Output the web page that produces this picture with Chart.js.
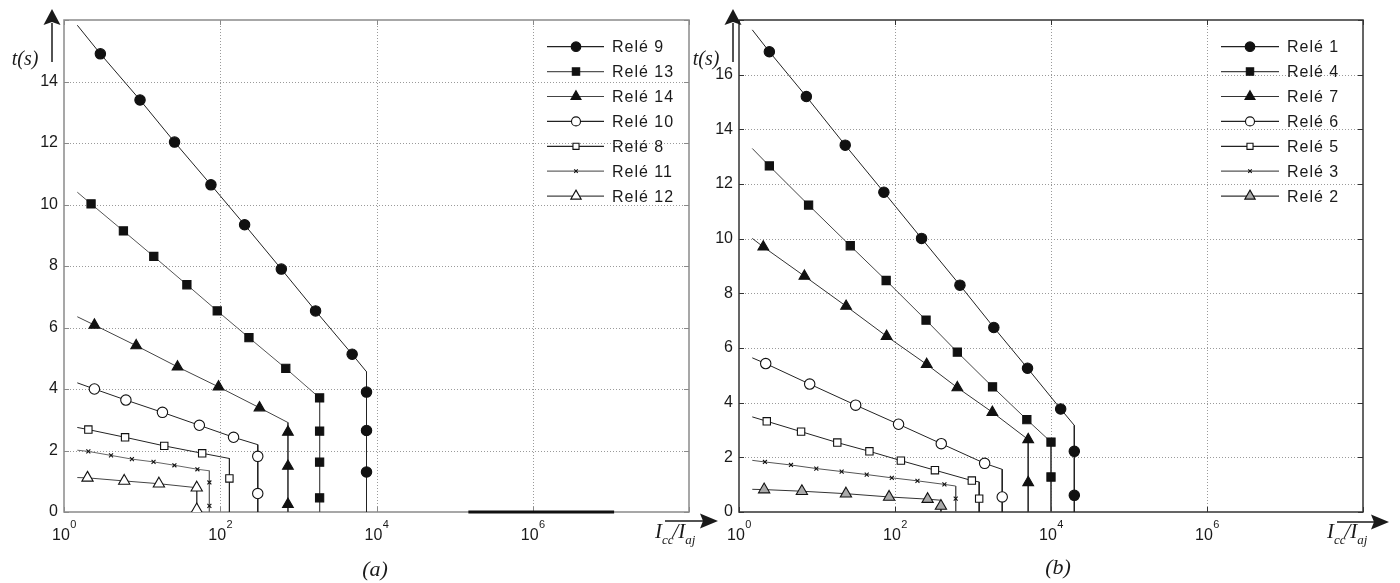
<!DOCTYPE html>
<html><head><meta charset="utf-8">
<script src="https://cdn.jsdelivr.net/npm/chart.js@4.4.1/dist/chart.umd.min.js"></script>
<style>
html,body{margin:0;padding:0;background:#fff;}
#wrap{position:relative;width:1400px;height:583px;background:#fff;}
canvas{position:absolute;left:0;top:0;}
</style></head><body>
<div id="wrap"><canvas id="ca" width="1400" height="583"></canvas><canvas id="cb" width="1400" height="583"></canvas></div>
<script>
// ---------- axis ticks ----------
const xTickValues = [1, 1e2, 1e4, 1e6, 1e8];
const xTickExps = ['0', '2', '4', '6', ''];
const yMaxA = 16;
const yMaxB = 18;
const yStep = 2;

// ---------- panel (a) ----------
const namesA = ['Relé 9', 'Relé 13', 'Relé 14', 'Relé 10', 'Relé 8', 'Relé 11', 'Relé 12'];
const r9I  = [1.48, 2.92, 9.4, 26, 76, 205, 605, 1660, 4880, 7450, 7450, 7450, 7450, 7450];
const r9t  = [15.83, 14.9, 13.4, 12.03, 10.64, 9.34, 7.9, 6.54, 5.13, 4.56, 3.9, 2.65, 1.3, 0];
const r9Mk = [1, 2, 3, 4, 5, 6, 7, 8, 10, 11, 12];
const r13I  = [1.48, 2.22, 5.76, 14.1, 37.4, 91.5, 233, 690, 1870, 1870, 1870, 1870, 1870];
const r13t  = [10.4, 10.02, 9.14, 8.31, 7.39, 6.54, 5.67, 4.67, 3.71, 2.63, 1.62, 0.46, 0];
const r13Mk = [1, 2, 3, 4, 5, 6, 7, 8, 9, 10, 11];
const r14I  = [1.48, 2.45, 8.4, 28.4, 95, 318, 735, 735, 735, 735, 735];
const r14t  = [6.35, 6.08, 5.41, 4.72, 4.07, 3.39, 2.91, 2.6, 1.49, 0.25, 0];
const r14Mk = [1, 2, 3, 4, 5, 7, 8, 9];
const r10I  = [1.48, 2.45, 6.2, 18.2, 54, 148, 302, 302, 302, 302];
const r10t  = [4.2, 4.0, 3.64, 3.24, 2.82, 2.43, 2.19, 1.81, 0.6, 0];
const r10Mk = [1, 2, 3, 4, 5, 7, 8];
const r8I  = [1.48, 2.05, 6.05, 19.2, 58.7, 131, 131, 131];
const r8t  = [2.75, 2.68, 2.43, 2.15, 1.91, 1.74, 1.09, 0];
const r8Mk = [1, 2, 3, 4, 6];
const r11I  = [1.48, 2.05, 4.0, 7.4, 14, 25.9, 51, 72.6, 72.6, 72.6, 72.6];
const r11t  = [2.01, 1.97, 1.84, 1.72, 1.63, 1.52, 1.39, 1.34, 0.96, 0.2, 0];
const r11Mk = [1, 2, 3, 4, 5, 6, 8, 9];
const r12I  = [1.48, 2.0, 5.9, 16.4, 50, 50, 50];
const r12t  = [1.12, 1.11, 1.01, 0.92, 0.79, 0.08, 0];
const r12Mk = [1, 2, 3, 4, 5];
const baseAI = [1.5e5, 1.1e7];
const baseAt = [0, 0];

// ---------- panel (b) ----------
const namesB = ['Relé 1', 'Relé 4', 'Relé 7', 'Relé 6', 'Relé 5', 'Relé 3', 'Relé 2'];
const r1I  = [1.48, 2.45, 7.3, 23, 72, 219, 680, 1850, 5000, 13300, 19900, 19900, 19900, 19900];
const r1t  = [17.64, 16.84, 15.2, 13.42, 11.7, 10.01, 8.3, 6.75, 5.26, 3.77, 3.17, 2.22, 0.61, 0];
const r1Mk = [1, 2, 3, 4, 5, 6, 7, 8, 9, 11, 12];
const r4I  = [1.48, 2.45, 7.8, 26.7, 77, 250, 630, 1780, 4900, 10000, 10000, 10000];
const r4t  = [13.3, 12.66, 11.23, 9.74, 8.47, 7.02, 5.85, 4.58, 3.38, 2.56, 1.28, 0];
const r4Mk = [1, 2, 3, 4, 5, 6, 7, 8, 9, 10];
const r7I  = [1.48, 2.05, 6.9, 23.6, 78, 255, 630, 1770, 5100, 5100, 5100];
const r7t  = [10.01, 9.7, 8.63, 7.53, 6.43, 5.4, 4.55, 3.65, 2.65, 1.08, 0];
const r7Mk = [1, 2, 3, 4, 5, 6, 7, 8, 9];
const r6I  = [1.48, 2.2, 8.06, 31.3, 111, 392, 1410, 2370, 2370, 2370];
const r6t  = [5.64, 5.43, 4.68, 3.91, 3.21, 2.5, 1.78, 1.56, 0.55, 0];
const r6Mk = [1, 2, 3, 4, 5, 6, 8];
const r5I  = [1.48, 2.27, 6.25, 18.2, 47, 119, 325, 966, 1200, 1200, 1200];
const r5t  = [3.48, 3.32, 2.94, 2.54, 2.22, 1.88, 1.53, 1.15, 1.1, 0.49, 0];
const r5Mk = [1, 2, 3, 4, 5, 6, 7, 9];
const r3I  = [1.48, 2.15, 4.64, 9.8, 20.7, 43.4, 91, 194, 430, 600, 600, 600];
const r3t  = [1.89, 1.83, 1.72, 1.59, 1.48, 1.37, 1.25, 1.14, 1.01, 0.95, 0.49, 0];
const r3Mk = [1, 2, 3, 4, 5, 6, 7, 8, 10];
const r2I  = [1.48, 2.1, 6.4, 23.5, 84, 262, 388, 388, 388];
const r2t  = [0.83, 0.82, 0.76, 0.67, 0.55, 0.47, 0.43, 0.22, 0];
const r2Mk = [1, 2, 3, 4, 5, 7];

// ---------- styles ----------
const SANS = "'Liberation Sans', Arial, sans-serif";
const SERIF = "'Liberation Serif', 'Times New Roman', serif";
const stylesA = [
  {ps: 'circle',   fill: '#111', r: 5.2, lr: 4.8},
  {ps: 'rect',     fill: '#111', r: 5.8, lr: 5.2},
  {ps: 'triangle', fill: '#111', r: 6.2, lr: 5.8},
  {ps: 'circle',   fill: '#fff', r: 5.2, lr: 4.5},
  {ps: 'rect',     fill: '#fff', r: 5.2, lr: 4.3},
  {ps: 'crossRot', fill: '#fff', r: 2.8, lr: 2.5},
  {ps: 'triangle', fill: '#fff', r: 6.5, lr: 6.0}
];
const stylesB = stylesA.slice(0, 6).concat([{ps: 'triangle', fill: '#aaa', r: 6.5, lr: 6.0}]);
const lineColorsA = ['#222', '#555', '#444', '#222', '#222', '#666', '#444'];
const lineColorsB = ['#222', '#444', '#333', '#222', '#222', '#555', '#333'];

function relayDataset(I, t, marks, st, color) {
  return {
    data: I.map((x, i) => ({x: x, y: t[i]})),
    borderColor: color,
    borderWidth: 1,
    tension: 0,
    pointStyle: st.ps,
    pointRadius: c => marks.includes(c.dataIndex) ? st.r : 0,
    pointHoverRadius: 0,
    pointHitRadius: 0,
    pointBackgroundColor: st.fill,
    pointBorderColor: '#111',
    pointBorderWidth: 1.1
  };
}

function markerAt(ctx, st, x, y, r) {
  ctx.save();
  ctx.fillStyle = st.fill;
  ctx.strokeStyle = '#111';
  ctx.lineWidth = 1.1;
  if (Chart.helpers && Chart.helpers.drawPoint) {
    Chart.helpers.drawPoint(ctx, {pointStyle: st.ps, radius: r, rotation: 0, borderWidth: 1.1}, x, y);
  }
  ctx.restore();
}

const decoPlugin = {
  id: 'deco',
  beforeDatasetsDraw(chart, args, o) {
    const {ctx, chartArea: a, scales: {x, y}} = chart;
    ctx.save();
    ctx.strokeStyle = '#9a9a9a';
    ctx.lineWidth = 1;
    ctx.setLineDash([1, 2]);
    xTickValues.forEach(v => {
      const px = Math.round(x.getPixelForValue(v)) + 0.5;
      if (px > a.left + 2 && px < a.right - 2) {
        ctx.beginPath(); ctx.moveTo(px, a.top); ctx.lineTo(px, a.bottom); ctx.stroke();
      }
    });
    y.ticks.forEach(tk => {
      const py = Math.round(y.getPixelForValue(tk.value)) + 0.5;
      if (py > a.top + 2 && py < a.bottom - 2) {
        ctx.beginPath(); ctx.moveTo(a.left, py); ctx.lineTo(a.right, py); ctx.stroke();
      }
    });
    // frame and inward ticks
    ctx.strokeStyle = o.frameColor;
    ctx.lineWidth = o.frameWidth;
    ctx.setLineDash([]);
    ctx.strokeRect(a.left, a.top, a.right - a.left, a.bottom - a.top);
    ctx.lineWidth = 1;
    const tl = 5;
    xTickValues.forEach(v => {
      const px = Math.round(x.getPixelForValue(v)) + 0.5;
      ctx.beginPath(); ctx.moveTo(px, a.bottom); ctx.lineTo(px, a.bottom - tl);
      ctx.moveTo(px, a.top); ctx.lineTo(px, a.top + tl); ctx.stroke();
    });
    y.ticks.forEach(tk => {
      const py = Math.round(y.getPixelForValue(tk.value)) + 0.5;
      ctx.beginPath(); ctx.moveTo(a.left, py); ctx.lineTo(a.left + tl, py);
      ctx.moveTo(a.right, py); ctx.lineTo(a.right - tl, py); ctx.stroke();
    });
    ctx.restore();
  },
  afterDraw(chart, args, o) {
    const {ctx, chartArea: a, scales: {x}} = chart;
    ctx.save();
    ctx.fillStyle = '#1a1a1a';
    // x tick labels 10^n
    xTickValues.forEach((v, i) => {
      if (!xTickExps[i]) return;
      const px = x.getPixelForValue(v);
      ctx.font = '16px ' + SANS;
      const w1 = ctx.measureText('10').width;
      ctx.font = '11px ' + SANS;
      const w2 = ctx.measureText(xTickExps[i]).width;
      const x0 = px - (w1 + w2) / 2;
      ctx.textAlign = 'left';
      ctx.textBaseline = 'alphabetic';
      ctx.font = '16px ' + SANS;
      ctx.fillText('10', x0, a.bottom + 28);
      ctx.font = '11px ' + SANS;
      ctx.fillText(xTickExps[i], x0 + w1 + 0.5, a.bottom + 15.5);
    });
    // y arrow
    ctx.strokeStyle = '#1a1a1a';
    ctx.lineWidth = 1.5;
    const ya = o.yArrow;
    ctx.beginPath(); ctx.moveTo(ya.x, ya.tail); ctx.lineTo(ya.x, ya.tip + 14); ctx.stroke();
    ctx.beginPath(); ctx.moveTo(ya.x, ya.tip); ctx.lineTo(ya.x - 8.5, ya.tip + 16); ctx.lineTo(ya.x, ya.tip + 13);
    ctx.lineTo(ya.x + 8.5, ya.tip + 16); ctx.closePath(); ctx.fill();
    // x arrow
    const xa = o.xArrow;
    ctx.beginPath(); ctx.moveTo(xa.tail, xa.y); ctx.lineTo(xa.tip - 15, xa.y); ctx.stroke();
    ctx.beginPath(); ctx.moveTo(xa.tip, xa.y); ctx.lineTo(xa.tip - 18, xa.y - 7.5); ctx.lineTo(xa.tip - 15, xa.y);
    ctx.lineTo(xa.tip - 18, xa.y + 7.5); ctx.closePath(); ctx.fill();
    // t(s)
    ctx.font = 'italic 20px ' + SERIF;
    ctx.textAlign = 'center';
    ctx.textBaseline = 'middle';
    ctx.fillText('t(s)', o.tLabel.x, o.tLabel.y);
    // I_cc / I_aj
    let cx = o.xLabel.x;
    const by = o.xLabel.y;
    ctx.textAlign = 'left';
    ctx.textBaseline = 'alphabetic';
    const parts = [['I', 21, 0], ['cc', 13, 6], ['/', 21, 0], ['I', 21, 0], ['aj', 13, 6]];
    parts.forEach(p => {
      ctx.font = 'italic ' + p[1] + 'px ' + SERIF;
      ctx.fillText(p[0], cx, by + p[2]);
      cx += ctx.measureText(p[0]).width - (p[0] === 'cc' ? 1 : 0);
    });
    // panel label
    ctx.font = 'italic 22px ' + SERIF;
    ctx.textAlign = 'center';
    ctx.textBaseline = 'middle';
    ctx.fillText(o.panel.text, o.panel.x, o.panel.y);
    // legend
    const lg = o.legend;
    lg.names.forEach((nm, i) => {
      const yy = lg.y0 + i * lg.dy;
      ctx.strokeStyle = lg.colors[i];
      ctx.lineWidth = 1.2;
      ctx.beginPath(); ctx.moveTo(lg.x1, yy); ctx.lineTo(lg.x2, yy); ctx.stroke();
      markerAt(ctx, lg.styles[i], lg.xm, yy, lg.styles[i].lr);
      ctx.fillStyle = '#1a1a1a';
      ctx.font = '16px ' + SANS;
      if ('letterSpacing' in ctx) ctx.letterSpacing = '1px';
      ctx.textAlign = 'left';
      ctx.textBaseline = 'middle';
      ctx.fillText(nm, lg.xt, yy + 1);
      if ('letterSpacing' in ctx) ctx.letterSpacing = '0px';
    });
    ctx.restore();
  }
};

function makePanel(id, cfg) {
  const datasets = cfg.relays.map((r, i) => relayDataset(r[0], r[1], r[2], cfg.styles[i], cfg.colors[i]));
  if (cfg.base) {
    datasets.push({
      data: cfg.base[0].map((v, i) => ({x: v, y: cfg.base[1][i]})),
      borderColor: '#111', borderWidth: 3, pointRadius: 0, clip: false
    });
  }
  return new Chart(document.getElementById(id), {
    type: 'line',
    data: {datasets: datasets},
    options: {
      responsive: false, animation: false, devicePixelRatio: 1,
      events: [],
      layout: {padding: cfg.padding},
      plugins: {
        legend: {display: false},
        tooltip: {enabled: false},
        deco: cfg.deco
      },
      scales: {
        x: {
          type: 'logarithmic', min: 1, max: 1e8,
          afterBuildTicks: s => { s.ticks = xTickValues.map(v => ({value: v, major: true})); },
          afterFit: s => { s.height = 71; },
          ticks: {display: false},
          grid: {display: false, drawTicks: false},
          border: {display: false}
        },
        y: {
          type: 'linear', min: 0, max: cfg.yMax,
          afterFit: s => { s.width = cfg.yAxisW; },
          ticks: {
            stepSize: yStep, padding: 6, color: '#1a1a1a',
            font: {family: SANS, size: 16},
            callback: v => (v === cfg.yMax ? '' : String(v))
          },
          grid: {display: false, drawTicks: false},
          border: {display: false}
        }
      }
    },
    plugins: [decoPlugin]
  });
}

makePanel('ca', {
  relays: [[r9I, r9t, r9Mk], [r13I, r13t, r13Mk], [r14I, r14t, r14Mk], [r10I, r10t, r10Mk],
           [r8I, r8t, r8Mk], [r11I, r11t, r11Mk], [r12I, r12t, r12Mk]],
  styles: stylesA, colors: lineColorsA,
  base: [baseAI, baseAt],
  yMax: yMaxA, yAxisW: 64,
  padding: {left: 0, right: 711, top: 20, bottom: 0},
  deco: {
    frameColor: '#8a8a8a', frameWidth: 1.5,
    yArrow: {x: 52, tip: 9, tail: 62},
    xArrow: {tail: 665, tip: 718, y: 521},
    tLabel: {x: 25, y: 60},
    xLabel: {x: 655, y: 538},
    panel: {text: '(a)', x: 375, y: 570},
    legend: {names: namesA, styles: stylesA, colors: lineColorsA, x1: 547, x2: 604, xm: 576, xt: 612, y0: 46.7, dy: 24.9}
  }
});

makePanel('cb', {
  relays: [[r1I, r1t, r1Mk], [r4I, r4t, r4Mk], [r7I, r7t, r7Mk], [r6I, r6t, r6Mk],
           [r5I, r5t, r5Mk], [r3I, r3t, r3Mk], [r2I, r2t, r2Mk]],
  styles: stylesB, colors: lineColorsB,
  base: null,
  yMax: yMaxB, yAxisW: 39,
  padding: {left: 700, right: 37, top: 20, bottom: 0},
  deco: {
    frameColor: '#333', frameWidth: 1.5,
    yArrow: {x: 733, tip: 9, tail: 62},
    xArrow: {tail: 1337, tip: 1389, y: 522},
    tLabel: {x: 706, y: 60},
    xLabel: {x: 1327, y: 538},
    panel: {text: '(b)', x: 1058, y: 568},
    legend: {names: namesB, styles: stylesB, colors: lineColorsB, x1: 1221, x2: 1279, xm: 1250, xt: 1287, y0: 46.7, dy: 24.9}
  }
});
</script>
</body></html>
